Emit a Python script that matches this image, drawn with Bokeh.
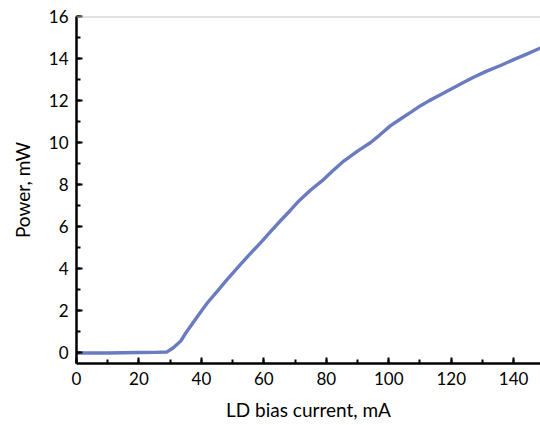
from bokeh.plotting import figure
from bokeh.models import SingleIntervalTicker, Range1d, Span
from bokeh.embed import file_html
from bokeh.resources import INLINE

current_mA = [0, 5, 10, 15, 20, 25, 29, 31, 33.4, 35, 37.7, 40, 42, 45.2, 48, 52.6, 55, 59, 62,
              65.4, 68.6, 71.3, 75, 79.3, 82, 85.7, 90, 94.2, 97, 100.6, 104, 107, 110.2, 113,
              116.1, 120, 123, 127, 131, 135.8, 140, 144, 148.6, 152]
power_mW = [0, 0, 0, 0.01, 0.02, 0.03, 0.05, 0.25, 0.57, 0.95, 1.52, 2.0, 2.4, 2.95, 3.45, 4.22,
            4.62, 5.25, 5.75, 6.3, 6.8, 7.24, 7.75, 8.27, 8.65, 9.14, 9.6, 10.01, 10.35, 10.81,
            11.15, 11.44, 11.76, 12.0, 12.24, 12.55, 12.79, 13.1, 13.38, 13.67, 13.95, 14.2,
            14.5, 14.7]
x_title = "LD bias current, mA"
y_title = "Power, mW"

FONT = "Lato"

p = figure(width=540, height=425, output_backend="svg", toolbar_location=None,
           x_range=Range1d(0, 148.6), y_range=Range1d(-0.5, 16),
           min_border_left=76, min_border_right=0, min_border_top=16, min_border_bottom=62)
p.outline_line_color = None
p.background_fill_color = "white"
p.border_fill_color = "white"
p.xgrid.visible = False
p.ygrid.visible = False

p.add_layout(Span(location=16, dimension="width", line_color="#c3c3c3", line_width=2))

p.line(current_mA, power_mW, line_color="#6b7bc0", line_width=3.4)

p.xaxis.ticker = SingleIntervalTicker(interval=20, num_minor_ticks=2)
p.yaxis.ticker = SingleIntervalTicker(interval=2, num_minor_ticks=2)

for ax in (p.xaxis, p.yaxis):
    ax.axis_line_color = "black"
    ax.axis_line_width = 2.5
    ax.major_tick_line_color = "black"
    ax.minor_tick_line_color = "black"
    ax.major_tick_line_width = 2
    ax.minor_tick_line_width = 2
    ax.major_tick_in = 6
    ax.major_tick_out = 0
    ax.minor_tick_in = 4
    ax.minor_tick_out = 0
    ax.major_label_text_font = FONT
    ax.major_label_text_font_size = "17px"
    ax.major_label_text_color = "black"
    ax.axis_label_text_font = FONT
    ax.axis_label_text_font_size = "19px"
    ax.axis_label_text_font_style = "normal"
    ax.axis_label_text_color = "black"

p.xaxis.axis_label = x_title
p.yaxis.axis_label = y_title
p.xaxis.major_label_standoff = 8
p.yaxis.major_label_standoff = 8
p.xaxis.axis_label_standoff = 10
p.yaxis.axis_label_standoff = 12

open("out.html", "w").write(file_html(p, INLINE))
